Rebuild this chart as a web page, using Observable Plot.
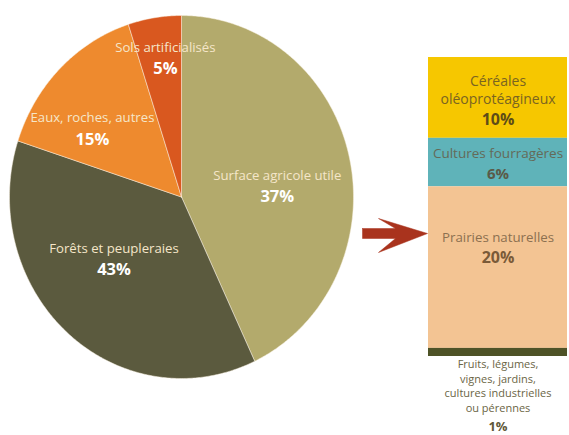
<!DOCTYPE html>
<html><head><meta charset="utf-8">
<script src="https://cdn.jsdelivr.net/npm/d3@7"></script>
<script src="https://cdn.jsdelivr.net/npm/@observablehq/plot@0.6"></script>
<style>
body{margin:0;background:#fff;}
#chart{position:relative;width:569px;height:435px;background:#fff;overflow:hidden;}
#chart svg{position:absolute;left:0;top:0;background:transparent !important;}
</style></head><body><div id="chart"></div>
<script>
// ---- Pie: land use ----
const landNames = ["Surface agricole utile", "Forêts et peupleraies", "Eaux, roches, autres", "Sols artificialisés"];
const landLabels = ["37%", "43%", "15%", "5%"];
const landShare = [43, 37, 15, 5]; // slice sizes as drawn in the picture
// ---- Stacked bar: breakdown of the agricultural area ----
const sauNames = ["Céréales\noléoprotéagineux", "Cultures fourragères", "Prairies naturelles", "Fruits, légumes,\nvignes, jardins,\ncultures industrielles\nou pérennes"];
const sauValues = [10, 6, 20, 1];
const sauLabels = ["10%", "6%", "20%", "1%"];

// ---- styles / layout ----
const landColors = ["#b3aa6c", "#5b5a3e", "#ee8a2e", "#d9581f"];
const sauColors = ["#f6c700", "#5fb3b9", "#f3c493", "#4e5327"];
const sauText = ["#7a6420", "#646a58", "#8c7050", "#6b6545"];
const sauPct = ["#5e4c18", "#5a5a48", "#7a5a38", "#5f5838"];
const W = 569, H = 435;
const pie = {cx: 181, cy: 196.5, rx: 172, ry: 181.5};
const labelPos = [[84, 0.56], [229, 0.52], [306, 0.64], [353, 0.77]]; // [deg, radius]
const font = "'Open Sans', Lato, sans-serif";
// arrow outline, in px relative to its origin (left end of the shaft, mid height)
const arrowOrigin = [362, 233];
const arrowShape = [[0, -5], [33, -5], [16, -15], [65, 0], [16, 19], [33, 5], [0, 5], [0, -5]];

// pie polygons
const arcs = d3.pie().sort(null).startAngle(0).endAngle(2 * Math.PI)(landShare);
const piePts = [];
arcs.forEach((a, i) => {
  piePts.push({name: landNames[i], x: 0, y: 0});
  const n = Math.max(2, Math.ceil((a.endAngle - a.startAngle) / 0.01));
  for (let k = 0; k <= n; k++) {
    const t = a.startAngle + (a.endAngle - a.startAngle) * k / n;
    piePts.push({name: landNames[i], x: Math.sin(t), y: Math.cos(t)});
  }
  piePts.push({name: landNames[i], x: 0, y: 0});
});
const pieLabels = landNames.map((name, i) => {
  const t = labelPos[i][0] * Math.PI / 180, r = labelPos[i][1];
  return {name, pct: landLabels[i], x: r * Math.sin(t), y: r * Math.cos(t)};
});
const arrowPts = arrowShape.map(([dx, dy]) => ({
  x: (arrowOrigin[0] + dx - pie.cx) / pie.rx,
  y: (pie.cy - arrowOrigin[1] - dy) / pie.ry
}));

const piePlot = Plot.plot({
  width: W, height: H, margin: 0,
  style: {background: "transparent", fontFamily: font},
  x: {domain: [-1, 1], range: [pie.cx - pie.rx, pie.cx + pie.rx], axis: null},
  y: {domain: [-1, 1], range: [pie.cy + pie.ry, pie.cy - pie.ry], axis: null},
  color: {domain: landNames, range: landColors},
  marks: [
    Plot.line(piePts, {x: "x", y: "y", z: "name", fill: "name", stroke: "#fbf3e4", strokeWidth: 0.7, strokeOpacity: 0.7, curve: "linear"}),
    Plot.text(pieLabels, {x: "x", y: "y", text: "name", dy: -10.5, fill: "#f5e6c9", fontSize: 13.2}),
    Plot.text(pieLabels, {x: "x", y: "y", text: "pct", dy: 10.5, fill: "#ffffff", fontSize: 16.5, fontWeight: "bold"}),
    Plot.line(arrowPts, {x: "x", y: "y", fill: "#a9331d", stroke: "#a9331d", strokeWidth: 0.5, curve: "linear"})
  ]
});

// stacked bar
const bars = sauNames.map((name, i) => ({name, value: sauValues[i], pct: sauLabels[i], i}));
let acc = d3.sum(sauValues);
bars.forEach(b => { b.top = acc; acc -= b.value; b.bottom = acc; });
// text lines: [anchor ("top"/"bottom"), first dy, spacing, pct dy, font size, pct size]
const textLayout = [["top", 24, 18, 62, 14, 16], ["top", 15.5, 18, 35.5, 13.5, 15], ["top", 51, 18, 71, 13.3, 16], ["bottom", 8, 14.5, 70, 11, 13]];
const textMarks = [];
bars.forEach((b, i) => {
  const [anchor, d0, sp, dp, fs, ps] = textLayout[i];
  const yv = anchor === "top" ? b.top : b.bottom;
  b.name.split("\n").forEach((line, k) => {
    textMarks.push(Plot.text([{line, y: yv}], {x: () => 0.5, y: "y", text: "line", dy: d0 + k * sp, fill: sauText[i], fontSize: fs}));
  });
  textMarks.push(Plot.text([{pct: b.pct, y: yv}], {x: () => 0.5, y: "y", text: "pct", dy: dp, fill: sauPct[i], fontSize: ps, fontWeight: "bold"}));
});

const barPlot = Plot.plot({
  width: W, height: H, margin: 0,
  style: {background: "transparent", fontFamily: font},
  x: {domain: [0, 1], range: [428, 567], axis: null},
  y: {domain: [0, d3.sum(sauValues)], range: [356, 57], axis: null},
  color: {domain: sauNames, range: sauColors},
  marks: [
    Plot.rect(bars, {x1: () => 0, x2: () => 1, y1: "bottom", y2: "top", fill: "name"}),
    ...textMarks
  ]
});

document.getElementById("chart").append(piePlot, barPlot);
</script></body></html>
